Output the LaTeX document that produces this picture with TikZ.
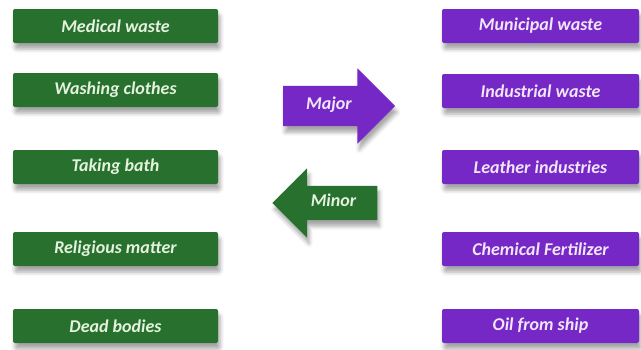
\documentclass[tikz,border=0pt]{standalone}
\usepackage{fontspec}
\setmainfont{Carlito}
\usetikzlibrary{shapes.arrows,shadows.blur}
\definecolor{leafgreen}{RGB}{40,112,46}
\definecolor{violetpurple}{RGB}{118,40,198}
\definecolor{greentext}{RGB}{228,242,222}
\definecolor{purpletext}{RGB}{240,230,248}
\begin{document}
\begin{tikzpicture}[x=1pt,y=-1pt,every node/.style={font=\fontsize{18}{20}\selectfont\bfseries\itshape,blur shadow={shadow xshift=2pt,shadow yshift=-6pt,shadow opacity=35,shadow blur radius=4pt}}]
	\tikzstyle{greenbox}=[fill=leafgreen,text=greentext,rounded corners=2pt,minimum width=205pt,minimum height=34pt]
	\tikzstyle{purplebox}=[fill=violetpurple,text=purpletext,rounded corners=2pt,minimum width=197pt,minimum height=34pt]
	\tikzstyle{bigarrow}=[single arrow,single arrow head extend=17.5pt,single arrow head indent=0pt,text height=9pt,text depth=3pt]
	\useasboundingbox (0,0) rectangle (641,349);
	% left column
	\node[greenbox] (medical) at (115.5,26) {Medical waste};
	\node[greenbox] (washing) at (115.5,90) {Washing clothes};
	\node[greenbox] (bath) at (115.5,167) {Taking bath};
	\node[greenbox] (religious) at (115.5,249) {Religious matter};
	\node[greenbox] (bodies) at (115.5,326) {Dead bodies};
	% right column
	\node[purplebox] (municipal) at (540.5,26) {Municipal waste};
	\node[purplebox] (industrial) at (540.5,91) {Industrial waste};
	\node[purplebox] (leather) at (540.5,167) {Leather industries};
	\node[purplebox] (chemical) at (540.5,249) {Chemical Fertilizer};
	\node[purplebox] (oil) at (540.5,326) {Oil from ship};
	% arrows
	\node[bigarrow,fill=violetpurple,text=purpletext,inner ysep=14pt,minimum height=112pt] (major) at (329,106) {Major};
	\node[bigarrow,fill=leafgreen,text=greentext,inner ysep=11pt,minimum height=105pt,shape border rotate=180] (minor) at (333.5,203) {Minor};
\end{tikzpicture}
\end{document}
